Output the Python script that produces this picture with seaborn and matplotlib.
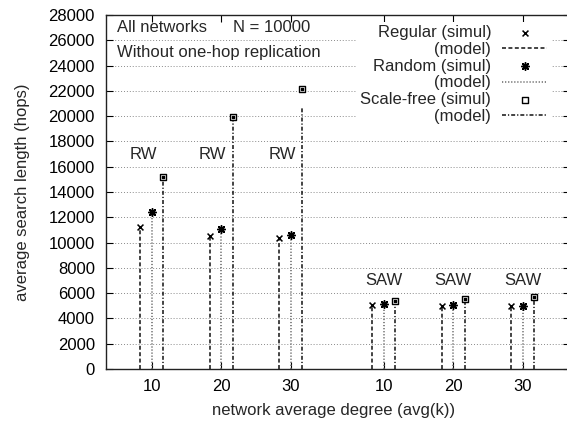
import matplotlib

matplotlib.use("Agg")
import matplotlib.pyplot as plt
import pandas as pd
import seaborn as sns

# values
degrees = [10, 20, 30]
networks = ["Regular", "Random", "Scale-free"]

rw_regular_simul = [11200, 10550, 10350]
rw_random_simul = [12400, 11100, 10600]
rw_scalefree_simul = [15200, 19900, 22150]
rw_regular_model = [11200, 10550, 10350]
rw_random_model = [12400, 11100, 10600]
rw_scalefree_model = [15200, 19900, 20700]

saw_regular_simul = [5050, 5000, 5000]
saw_random_simul = [5150, 5050, 5000]
saw_scalefree_simul = [5350, 5550, 5700]
saw_regular_model = [5050, 5000, 5000]
saw_random_model = [5150, 5050, 5000]
saw_scalefree_model = [5350, 5550, 5700]

y_ticks = list(range(0, 28001, 2000))

# layout
SAW_SHIFT = 33.3
SERIES_OFFSET = {"Regular": -1.65, "Random": 0.0, "Scale-free": 1.65}
STYLE = {
    "Regular": dict(marker="x", s=18, ls=(0, (2.6, 1.6)), lcolor="#111111"),
    "Random": dict(marker=(8, 2, 0), s=30, ls=(0, (0.8, 1.2)), lcolor="#666666"),
    "Scale-free": dict(marker="s", s=22, ls=(0, (2.6, 1.3, 0.8, 1.3)), lcolor="#111111"),
}

simul = {
    ("RW", "Regular"): rw_regular_simul,
    ("RW", "Random"): rw_random_simul,
    ("RW", "Scale-free"): rw_scalefree_simul,
    ("SAW", "Regular"): saw_regular_simul,
    ("SAW", "Random"): saw_random_simul,
    ("SAW", "Scale-free"): saw_scalefree_simul,
}
model = {
    ("RW", "Regular"): rw_regular_model,
    ("RW", "Random"): rw_random_model,
    ("RW", "Scale-free"): rw_scalefree_model,
    ("SAW", "Regular"): saw_regular_model,
    ("SAW", "Random"): saw_random_model,
    ("SAW", "Scale-free"): saw_scalefree_model,
}

rows = []
for (search, net), vals in simul.items():
    for k, v, m in zip(degrees, vals, model[(search, net)]):
        center = k + (SAW_SHIFT if search == "SAW" else 0)
        rows.append(
            {
                "search": search,
                "network": net,
                "degree": k,
                "center": center,
                "x": center + SERIES_OFFSET[net],
                "simul": v,
                "model": m,
            }
        )
df = pd.DataFrame(rows)

sns.set_style("ticks")
plt.rcParams["font.family"] = ["Liberation Sans", "DejaVu Sans"]
plt.rcParams["font.size"] = 12

fig = plt.figure(figsize=(5.67, 4.23), dpi=100)
ax = fig.add_axes([106 / 567, 54 / 423, 464 / 567, 354 / 423])

for y in y_ticks[1:-1]:
    ax.axhline(y, color="#8a8a8a", lw=0.7, ls=(0, (1, 2)), zorder=0)

for net in networks:
    sub = df[df["network"] == net]
    st = STYLE[net]
    if net == "Scale-free":
        sns.scatterplot(
            data=sub, x="x", y="simul", marker="s", s=st["s"], facecolor="white",
            edgecolor="black", linewidth=1.0, label=f"{net} (simul)", ax=ax, zorder=4,
        )
    else:
        sns.scatterplot(
            data=sub, x="x", y="simul", marker=st["marker"], s=st["s"], color="black",
            linewidth=1.1, label=f"{net} (simul)", ax=ax, zorder=4,
        )
    ax.vlines(sub["x"], 0, sub["model"], colors=st["lcolor"], linestyles=[st["ls"]],
              lw=1.1, label="(model)", zorder=3)

# centre dot of the scale-free boxes
sf = df[df["network"] == "Scale-free"]
ax.scatter(sf["x"], sf["simul"], marker="s", s=1.5, color="black", zorder=5)

for k in degrees:
    ax.text(k - 1.25, 17000, "RW", ha="center", va="center", fontsize=12)
    ax.text(k + SAW_SHIFT, 7000, "SAW", ha="center", va="center", fontsize=12)

ax.text(5.0, 27000, "All networks", ha="left", va="center", fontsize=12)
ax.text(21.7, 27000, "N = 10000", ha="left", va="center", fontsize=12)
ax.text(5.0, 25000, "Without one-hop replication", ha="left", va="center", fontsize=12)

ax.set_xlim(3.44, 70.06)
ax.set_ylim(0, 28000)
centers = sorted(df["center"].unique())
ax.set_xticks(centers)
ax.set_xticklabels([str(k) for k in degrees] * 2)
ax.set_yticks(y_ticks)
ax.tick_params(direction="in", length=5, width=0.8, top=True, right=True,
               labelsize=12, colors="black")
ax.tick_params(axis="y", pad=8)
ax.tick_params(axis="x", pad=7)
for sp in ax.spines.values():
    sp.set_linewidth(1.0)
    sp.set_color("#222222")

ax.set_xlabel("network average degree (avg(k))", fontsize=12)
ax.set_ylabel("average search length (hops)", fontsize=12)
ax.xaxis.set_label_coords(0.491, -0.095)
ax.yaxis.set_label_coords(-0.164, 0.5)

handles, labels = ax.get_legend_handles_labels()
leg = ax.legend(
    handles, labels, loc="upper right", bbox_to_anchor=(0.958, 0.98),
    markerfirst=False, frameon=True, fancybox=False, borderpad=0.2,
    borderaxespad=0, labelspacing=0.1, handlelength=2.7, handletextpad=0.66,
    fontsize=12,
)
leg.get_frame().set_facecolor("white")
leg.get_frame().set_edgecolor("none")
leg.get_frame().set_alpha(1)
for col in leg._legend_handle_box.get_children():
    col.align = "right"

fig.savefig("out.png", dpi=100)
